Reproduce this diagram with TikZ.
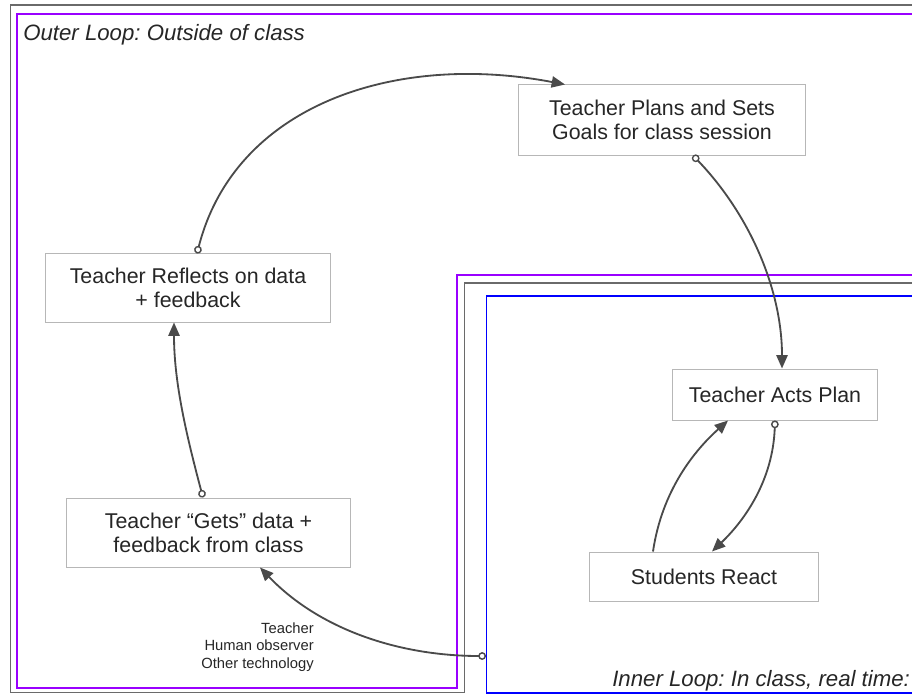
\documentclass[tikz,border=0pt]{standalone}
\usepackage{fontspec}
\setmainfont{Liberation Sans}
\frenchspacing
\usetikzlibrary{arrows.meta}
\definecolor{loopgray}{HTML}{6A6A6A}
\definecolor{outerpurple}{HTML}{9900FF}
\definecolor{innerblue}{HTML}{0000FF}
\definecolor{boxgray}{HTML}{B7B7B7}
\definecolor{arrowgray}{HTML}{4A4A4A}

\begin{document}
\begin{tikzpicture}[x=0.025cm,y=-0.025cm,
  box/.style={draw=boxgray,line width=0.7pt,fill=white,align=center,inner sep=0pt,
    font=\fontsize{15.2}{17}\selectfont,text=black!85},
  looplabel/.style={anchor=base west,inner sep=0pt,font=\fontsize{15.8}{18}\selectfont\itshape,text=black!85},
  flow/.style={arrowgray,line width=1.3pt,-{Triangle[length=9.5pt,width=8pt]}},
  from dot/.style={{Circle[open,length=5.5pt,line width=1pt]}-{Triangle[length=9.5pt,width=8pt]}}]
  \clip (0,0) rectangle (912,694);
  % loop frames, cut off at the right edge
  \draw[loopgray,line width=1.3pt] (925,5) -- (10.5,5) -- (10.5,692.5) -- (464.5,692.5) -- (464.5,283) -- (925,283);
  \draw[outerpurple,line width=1.3pt] (925,14.3) -- (17,14.3) -- (17,688) -- (457,688) -- (457,275) -- (925,275);
  \draw[innerblue,line width=1.3pt] (486.5,295.7) rectangle (925,692.7);

  \node[looplabel] (outerlbl) at (23,41) {Outer Loop: Outside of class};
  \node[looplabel] (innerlbl) at (612,686) {Inner Loop: In class, real time:};

  \node[box,minimum width=7.15cm,minimum height=1.75cm] (plans) at (662,120) {Teacher Plans and Sets\\Goals for class session};
  \node[box,minimum width=7.1cm,minimum height=1.7cm] (reflect) at (188,288) {Teacher Reflects on data\\+ feedback};
  \node[box,minimum width=7.075cm,minimum height=1.725cm] (gets) at (208.5,532.5) {Teacher “Gets” data +\\feedback from class};
  \node[box,minimum width=5.1cm,minimum height=1.275cm] (acts) at (775,394.5) {Teacher Acts Plan};
  \node[box,minimum width=5.7cm,minimum height=1.225cm] (react) at (704,576.5) {Students React};

  \node[anchor=east,align=right,inner sep=0pt,font=\fontsize{10.5}{12.5}\selectfont,text=black!85] (sources) at (314,647) {Teacher\\Human observer\\Other technology};
  \coordinate (feed) at (486,656);

  % outer loop
  \draw[flow,from dot] ([shift={(9,0)}]reflect.north) .. controls (235,105) and (395,52) .. ([shift={(-97,0)}]plans.north);
  \draw[flow,from dot] ([shift={(31,0)}]plans.south) .. controls (750,215) and (782,290) .. ([shift={(7,0)}]acts.north);
  \draw[flow,from dot] ([shift={(-5.5,0)}]gets.north) .. controls (185,430) and (174,380) .. ([shift={(-14,0)}]reflect.south);
  \draw[flow,from dot] (feed) .. controls (400,656) and (320,630) .. ([shift={(51.5,0)}]gets.south);
  % inner loop
  \draw[flow] ([shift={(-51,0)}]react.north) .. controls (662,490) and (695,450) .. ([shift={(-47,0)}]acts.south);
  \draw[flow,from dot] (acts.south) .. controls (773,480) and (745,520) .. ([shift={(8,0)}]react.north);
\end{tikzpicture}
\end{document}
